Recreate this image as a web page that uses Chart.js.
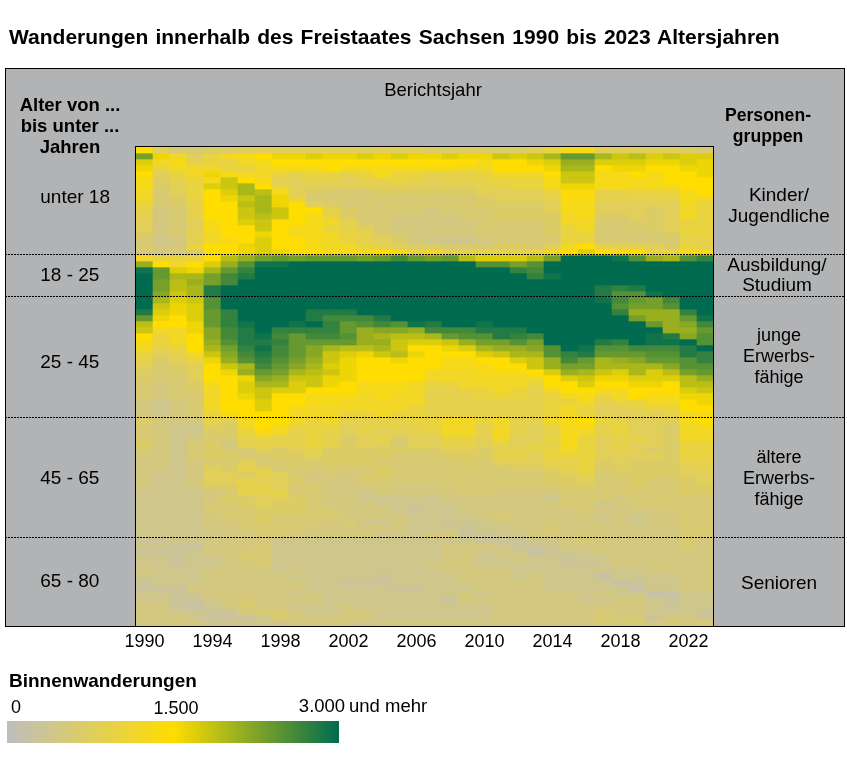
<!DOCTYPE html>
<html lang="de">
<head>
<meta charset="utf-8">
<title>Wanderungen innerhalb des Freistaates Sachsen</title>
<script src="https://cdn.jsdelivr.net/npm/chart.js@4"></script>
<style>
  html, body { margin: 0; padding: 0; background: #fff; }
  body { position: relative; width: 847px; height: 760px; overflow: hidden;
         font-family: "Liberation Sans", Arial, sans-serif; color: #000; }
  #panel { position: absolute; left: 5px; top: 68px; width: 838px; height: 557px;
           background: #b2b3b5; border: 1px solid #000; }
  #chart { position: absolute; left: 0; top: 0; }
  .t { position: absolute; white-space: nowrap; font-size: 18.5px; line-height: 21px; z-index: 2; }
  .c { transform: translateX(-50%); text-align: center; }
  .b { font-weight: bold; }
  #legendBar { position: absolute; left: 7px; top: 721px; width: 332px; height: 22px; }
</style>
</head>
<body>
<div id="panel"></div>
<canvas id="chart" width="847" height="760"></canvas>

<div class="t b" style="left:9px;top:26px;font-size:21px;word-spacing:1.4px">Wanderungen innerhalb des Freistaates Sachsen 1990 bis 2023 Altersjahren</div>
<div class="t c" style="left:433px;top:79px">Berichtsjahr</div>
<div class="t c b" style="left:70px;top:94px">Alter von ...<br>bis unter ...<br>Jahren</div>
<div class="t c b" style="left:768px;top:105px;font-size:17.6px">Personen-<br>gruppen</div>
<div class="t c" style="left:779px;top:184px;font-size:19px">Kinder/<br>Jugendliche</div>
<div class="t c" style="left:777px;top:255px;font-size:19px;line-height:20px">Ausbildung/<br>Studium</div>
<div class="t c" style="left:779px;top:325px;font-size:18px">junge<br>Erwerbs-<br>fähige</div>
<div class="t c" style="left:779px;top:447px;font-size:18px">ältere<br>Erwerbs-<br>fähige</div>
<div class="t c" style="left:779px;top:572px;font-size:19px">Senioren</div>

<div class="t b" style="left:9px;top:670px;font-size:19px">Binnenwanderungen</div>
<div class="t c" style="left:16px;top:697px;font-size:18px">0</div>
<div class="t c" style="left:176px;top:698px;font-size:18px">1.500</div>
<div class="t c" style="left:322px;top:695px">3.000</div>
<div class="t" style="left:349px;top:695px">und mehr</div>
<div id="legendBar"></div>

<script>
/* ── DATA ────────────────────────────────────────────────── */
const years = [1990,1991,1992,1993,1994,1995,1996,1997,1998,1999,2000,2001,2002,2003,2004,2005,2006,
               2007,2008,2009,2010,2011,2012,2013,2014,2015,2016,2017,2018,2019,2020,2021,2022,2023];

const ageLabels   = ["  unter 18", "18 - 25", "25 - 45", "45 - 65", "65 - 80"];
const ageLabelAt  = [8.5, 21.5, 36, 55.33, 72.5];
const ageBreaks   = [18, 25, 45, 65];

// Moves per age (row, 0..79) and year (column), in hundreds. 30 = 3.000 und mehr
const hundreds = [
  [15,8,6,6,7,7,8,8,8,8,8,8,8,8,8,8,8, 7,7,7,7,7,7,8,10,13,13,8,8,8,8,8,7,6],
  [23,16,12,8,10,12,13,15,16,16,17,16,16,17,16,17,16, 16,17,16,16,18,17,18,20,24,24,20,18,19,17,18,17,17],
  [17,12,13,9,10,10,12,13,15,15,15,15,15,15,15,15,15, 15,15,15,13,15,15,16,17,21,21,17,17,17,16,16,17,16],
  [16,10,12,12,12,10,10,12,13,13,13,15,13,13,13,13,13, 13,13,12,12,15,15,15,16,20,20,15,16,16,15,15,16,16],
  [15,8,10,12,16,13,12,12,10,9,10,10,9,10,13,10,10, 9,9,9,10,12,12,12,15,18,18,13,13,15,13,15,15,16],
  [13,7,9,10,13,18,15,13,8,8,9,9,8,9,9,10,9, 8,9,9,9,10,10,10,13,18,18,13,13,13,13,15,15,15],
  [13,7,8,10,17,18,20,15,10,8,8,8,8,8,8,8,8, 8,8,8,9,9,10,10,13,16,16,13,13,12,13,13,15,15],
  [12,6,8,10,15,17,20,19,13,8,7,6,6,6,7,7,7, 7,7,7,8,8,8,8,10,14,14,9,9,10,10,10,13,15],
  [12,6,7,10,15,16,18,20,16,10,6,6,6,6,6,6,6, 6,6,6,7,8,8,8,9,14,14,9,9,9,9,9,13,12],
  [10,6,7,9,15,15,19,20,16,15,8,7,6,6,6,6,6, 6,6,6,7,7,7,7,8,13,13,8,8,8,8,8,12,10],
  [9,5,6,9,15,15,18,20,18,15,15,9,7,6,6,6,6, 5,6,6,6,7,7,7,8,13,13,8,8,8,7,8,12,10],
  [9,5,6,9,15,15,18,19,18,15,13,10,7,6,6,5,5, 5,5,6,6,7,7,7,7,12,13,7,7,8,7,8,12,10],
  [8,5,6,8,13,15,17,18,15,15,13,12,9,6,6,5,5, 5,5,5,6,6,6,6,7,12,12,6,6,7,7,8,10,10],
  [8,5,6,8,13,15,15,18,15,13,13,10,9,8,6,5,5, 5,5,5,6,6,6,6,7,10,12,6,6,6,7,8,10,10],
  [7,5,6,9,12,15,15,16,15,13,13,12,10,9,7,6,5, 5,5,5,6,6,6,6,7,10,10,6,6,6,6,7,10,10],
  [6,4,5,8,12,13,15,17,15,15,13,12,10,9,8,7,5, 4,4,4,5,6,6,6,6,10,10,6,6,6,6,6,9,9],
  [6,5,5,10,15,15,16,17,15,15,13,12,12,10,9,8,7, 7,6,6,6,7,7,6,8,12,15,9,9,9,8,7,10,9],
  [6,5,6,7,15,15,16,17,16,15,15,13,13,13,15,13,10, 12,9,9,9,9,9,10,12,15,17,15,13,15,10,10,13,13],
  [12,10,10,10,15,19,21,23,24,23,24,24,24,23,24,26,24, 23,24,19,17,17,17,19,23,30,30,30,29,25,21,20,25,27],
  [21,15,12,15,17,21,25,29,29,30,30,30,30,30,30,30,30, 30,30,30,25,25,23,25,30,30,30,30,30,30,30,30,30,30],
  [29,24,17,16,20,24,27,30,30,30,30,30,30,30,30,30,30, 30,30,30,30,30,27,26,30,30,30,30,30,30,30,30,30,30],
  [30,24,20,20,23,26,28,30,30,30,30,30,30,30,30,30,30, 30,30,30,30,30,30,27,29,30,30,30,30,30,30,30,30,30],
  [30,23,19,21,23,26,30,30,30,30,30,30,30,30,30,30,30, 30,30,30,30,30,30,30,30,30,30,30,30,30,30,30,30,30],
  [30,23,19,20,28,30,30,30,30,30,30,30,30,30,30,30,30, 30,30,30,30,30,30,30,30,30,30,28,27,28,30,30,30,30],
  [30,22,18,20,28,30,30,30,30,30,30,30,30,30,30,30,30, 30,30,30,30,30,30,30,30,30,30,28,25,25,29,30,30,30],
  [30,20,17,18,25,30,30,30,30,30,30,30,30,30,30,30,30, 30,30,30,30,30,30,30,30,30,30,29,26,24,23,26,30,30],
  [30,18,16,17,25,30,30,30,30,30,30,30,30,30,30,30,30, 30,30,30,30,30,30,30,30,30,30,30,25,23,23,25,30,30],
  [28,17,16,17,24,27,30,30,30,30,28,28,28,30,30,30,30, 30,30,30,30,30,30,30,30,30,30,30,27,21,21,21,27,30],
  [24,16,15,17,24,27,30,30,30,30,28,26,26,26,28,30,30, 30,30,30,30,30,30,30,30,30,30,30,30,23,21,21,24,29],
  [19,15,15,16,24,27,29,30,30,29,30,27,24,25,26,25,29, 28,30,30,29,30,30,30,30,30,30,30,30,30,24,21,22,26],
  [18,12,12,16,22,26,28,30,27,27,27,27,24,21,22,22,21, 26,26,26,28,28,28,30,30,30,30,30,30,30,30,21,21,24],
  [15,10,12,15,22,26,28,29,26,24,26,26,25,21,20,19,19, 20,24,25,25,28,27,26,30,30,30,30,30,30,29,28,22,25],
  [13,10,12,15,21,25,28,28,27,24,24,24,24,21,21,18,17, 17,18,21,23,23,25,23,30,30,30,28,27,30,29,29,30,25],
  [12,9,10,15,20,23,27,29,26,24,22,20,19,19,20,18,15, 15,16,17,20,21,21,22,25,30,29,25,25,26,26,26,28,30],
  [10,8,9,12,18,22,26,28,26,24,22,18,17,16,18,19,16, 15,15,15,17,18,20,20,25,27,28,24,24,24,25,25,28,27],
  [9,7,8,10,16,21,25,27,25,23,21,18,16,15,15,16,15, 15,13,13,15,15,17,18,21,26,24,20,21,22,24,24,25,27],
  [8,6,7,8,15,18,20,26,24,22,20,17,16,15,15,15,15, 15,13,13,13,15,15,18,21,23,23,20,20,20,20,22,25,25],
  [7,6,7,8,15,16,21,24,23,20,19,18,16,15,15,15,15, 12,12,12,13,13,13,15,17,21,20,18,17,20,17,19,23,24],
  [7,6,6,8,15,15,16,22,21,18,18,16,16,15,15,15,15, 12,12,12,12,12,12,12,15,17,18,16,16,17,17,17,19,21],
  [6,5,6,7,13,15,17,20,20,17,18,16,15,13,13,13,12, 10,10,12,12,12,12,10,15,15,17,15,15,16,16,15,19,19],
  [6,5,6,7,12,15,17,18,17,17,15,15,15,13,13,13,12, 9,9,10,10,12,10,9,12,15,15,13,13,15,15,15,17,18],
  [6,5,6,6,12,15,16,18,15,15,13,13,13,12,13,12,12, 9,9,9,10,10,10,9,10,12,13,10,12,15,13,13,16,16],
  [5,4,5,6,12,15,15,17,15,15,13,13,12,12,12,12,12, 9,9,9,9,9,9,9,10,10,12,9,10,10,12,12,15,16],
  [5,4,5,6,12,15,15,17,15,13,12,12,12,12,12,12,10, 9,9,9,9,9,9,9,10,12,10,8,8,9,10,10,15,15],
  [5,4,5,6,10,13,15,15,15,12,12,12,10,10,12,10,10, 9,9,9,9,9,9,9,10,12,10,8,8,8,8,9,12,13],
  [7,5,5,5,9,8,12,15,15,12,10,12,9,9,9,9,10, 10,12,12,10,12,9,9,12,13,15,10,9,8,8,8,13,15],
  [6,5,4,4,8,7,12,15,13,10,10,10,8,9,9,9,9, 10,12,12,9,12,9,8,10,13,13,9,10,8,8,7,12,13],
  [6,5,4,4,7,7,10,13,12,9,10,9,8,9,8,8,9, 9,12,12,9,12,9,8,9,13,12,9,10,8,8,7,12,12],
  [6,5,4,5,6,6,9,10,9,9,10,9,7,8,9,7,8, 8,10,10,8,12,8,8,10,13,10,8,9,9,8,7,12,12],
  [7,5,4,6,7,5,9,9,9,9,10,9,7,8,8,6,8, 8,9,9,8,9,8,9,9,13,10,8,9,8,8,7,10,10],
  [6,5,4,6,7,6,6,8,7,8,9,7,7,7,7,7,7, 7,8,8,7,9,9,9,10,12,10,8,9,8,7,7,10,10],
  [5,5,4,6,7,7,6,6,7,7,8,7,7,7,7,6,6, 6,7,7,7,9,9,8,10,10,10,8,8,8,8,7,10,10],
  [5,5,4,5,6,6,8,6,6,7,6,7,7,7,6,6,6, 6,6,7,6,8,8,8,9,9,10,7,8,7,7,7,9,9],
  [5,5,4,5,8,7,9,8,6,6,6,6,6,6,7,6,6, 6,6,6,6,6,7,7,8,9,10,7,7,7,7,7,8,9],
  [5,4,4,5,8,8,7,9,8,6,5,6,5,6,7,6,6, 6,6,6,6,6,6,6,7,8,9,6,7,7,7,7,8,8],
  [5,4,4,5,8,8,9,8,8,7,5,5,5,6,6,6,6, 6,6,6,6,6,6,6,7,7,8,6,6,7,6,6,7,8],
  [5,4,4,5,7,7,9,9,8,6,6,5,5,5,6,5,5, 5,6,6,6,6,6,6,6,7,7,6,6,7,6,6,7,7],
  [4,4,4,4,5,6,9,9,9,6,6,5,5,4,5,5,5, 5,5,6,6,5,5,5,5,6,6,6,6,6,6,6,7,7],
  [4,4,4,4,5,7,7,8,8,7,6,5,5,4,4,4,4, 4,5,5,5,5,5,5,4,6,6,6,5,6,6,6,6,6],
  [4,4,4,4,6,6,7,8,7,7,6,5,5,5,4,4,4, 4,4,5,5,5,5,5,5,6,6,4,5,6,6,6,6,6],
  [4,4,4,4,6,6,6,7,7,7,6,6,5,5,5,4,3, 4,4,5,5,5,5,5,5,5,6,5,5,5,5,6,6,6],
  [4,4,4,4,5,6,6,7,6,6,6,6,5,5,5,5,4, 4,4,4,5,6,5,5,5,5,5,4,5,4,5,5,6,6],
  [4,4,4,4,5,5,6,7,6,6,6,5,6,4,4,5,4, 4,3,4,4,5,5,5,5,5,5,5,5,4,5,5,6,6],
  [4,4,4,4,5,5,6,6,6,6,5,5,5,5,5,5,4, 4,4,3,4,4,5,5,6,5,5,5,5,5,5,5,6,6],
  [4,4,4,4,4,5,5,6,6,5,5,5,5,5,4,4,4, 5,5,3,3,4,4,5,5,5,5,5,5,5,5,5,6,6],
  [3,3,4,4,5,5,5,5,4,4,4,4,4,4,4,4,4, 4,4,4,3,3,3,4,4,5,6,5,5,5,5,5,6,5],
  [4,4,3,3,5,5,5,6,4,4,4,4,4,4,4,4,4, 4,5,5,5,4,3,3,4,5,5,5,5,5,5,5,6,5],
  [3,3,3,4,5,5,6,6,4,4,4,4,4,4,4,4,4, 4,5,5,4,5,4,2,3,4,4,5,5,5,5,5,5,5],
  [4,4,3,4,4,5,6,6,4,4,4,4,4,4,4,4,4, 4,5,5,4,4,5,4,4,3,4,4,5,5,5,5,5,5],
  [4,4,3,4,4,5,5,6,4,4,4,4,4,4,4,4,4, 5,5,5,4,4,4,4,4,3,3,4,5,5,5,5,5,5],
  [5,4,4,4,5,5,5,5,4,5,4,4,4,4,4,4,4, 4,5,5,5,5,4,4,4,4,4,4,4,4,5,5,5,5],
  [4,4,4,4,5,5,5,5,5,4,4,4,4,4,3,4,4, 4,4,5,5,5,4,5,4,4,4,2,4,4,4,4,5,5],
  [3,4,4,4,5,5,5,5,5,5,4,4,3,3,3,4,4, 4,4,5,5,5,5,5,4,4,4,4,2,3,4,4,5,5],
  [3,3,3,5,5,5,5,5,5,5,4,4,4,4,4,3,3, 4,4,4,5,5,5,5,4,4,4,4,4,2,4,4,5,5],
  [4,4,3,4,5,5,5,5,5,4,5,4,4,4,4,4,4, 4,4,5,4,5,5,5,5,5,4,5,4,4,2,2,4,4],
  [4,4,3,3,4,5,6,5,5,5,5,4,4,4,4,4,4, 4,3,5,5,5,5,5,5,5,4,4,5,5,4,3,4,4],
  [5,5,3,2,4,5,6,5,5,4,4,4,5,4,4,4,4, 4,4,4,4,5,5,5,5,5,5,5,5,5,4,3,4,4],
  [5,5,4,4,3,3,5,6,6,5,4,4,5,5,4,4,4, 4,4,4,4,5,5,5,5,5,5,6,5,5,4,4,4,3],
  [5,5,5,4,3,3,3,4,6,5,5,5,5,5,4,4,4, 4,4,4,4,5,5,5,5,5,5,6,6,6,3,5,5,4],
  [5,5,5,5,4,4,4,4,4,5,5,5,5,4,5,5,5, 5,5,5,5,5,5,5,5,5,5,6,5,6,5,6,5,6]
];

const scaleGray   = [190, 190, 190];
const scaleYellow = [255, 221, 0];
const scaleGreen  = [0, 107, 79];

/* ── HELPERS ─────────────────────────────────────────────── */
function mix(a, b, t) {
  return `rgb(${a.map((v, i) => Math.round(v + (b[i] - v) * t)).join(",")})`;
}

function cellColor(h) {
  return h <= 15 ? mix(scaleGray, scaleYellow, h / 15) : mix(scaleYellow, scaleGreen, (Math.min(h, 30) - 15) / 15);
}

document.getElementById("legendBar").style.background =
  `linear-gradient(to right, rgb(${scaleGray}), rgb(${scaleYellow}), rgb(${scaleGreen}))`;

/* ── FRAME + DOTTED LINES ────────────────────────────────── */
const framePlugin = {
  id: "frame",
  afterDraw(chart) {
    const { ctx, chartArea: a, scales } = chart;
    ctx.save();
    ctx.strokeStyle = "#000";
    ctx.lineWidth = 1;
    ctx.setLineDash([2, 1]);
    ageBreaks.forEach(age => {
      // upper two lines sit one pixel above the row edge in the original
      const y = Math.round(scales.y.getPixelForValue(age)) + (age < 30 ? -0.5 : 0.5);
      ctx.beginPath();
      ctx.moveTo(5, y);
      ctx.lineTo(844, y);
      ctx.stroke();
    });
    ctx.setLineDash([]);
    ctx.strokeRect(a.left - 0.5, a.top - 0.5, a.right - a.left, 480);
    ctx.restore();
  }
};

/* ── CHART ───────────────────────────────────────────────── */
new Chart(document.getElementById("chart").getContext("2d"), {
  type: "bar",
  data: {
    labels: years,
    datasets: hundreds.map((row, age) => ({
      label: `Alter ${age}`,
      data: row.map(() => 1),
      backgroundColor: row.map(cellColor),
      borderWidth: 0,
      barPercentage: 1,
      categoryPercentage: 1
    }))
  },
  options: {
    responsive: false,
    animation: false,
    devicePixelRatio: 1,
    layout: { padding: { top: 147, right: 133, left: 0, bottom: 0 } },
    plugins: { legend: { display: false }, tooltip: { enabled: false } },
    scales: {
      x: {
        stacked: true,
        grid: { display: false, drawTicks: false },
        border: { display: false },
        afterFit: s => { s.height = 133; },
        ticks: {
          autoSkip: false,
          maxRotation: 0,
          padding: 4,
          color: "#000",
          font: { family: "'Liberation Sans', Arial, sans-serif", size: 18 },
          callback(val, i) { return i % 4 === 0 ? years[i] : ""; }
        }
      },
      y: {
        stacked: true,
        reverse: true,
        min: 0,
        max: 80,
        grid: { display: false, drawTicks: false },
        border: { display: false },
        afterFit: s => { s.width = 136; },
        afterBuildTicks: s => { s.ticks = ageLabelAt.map(value => ({ value })); },
        ticks: {
          crossAlign: "center",
          padding: 26,
          color: "#000",
          font: { family: "'Liberation Sans', Arial, sans-serif", size: 19 },
          callback(val, i) { return ageLabels[i]; }
        }
      }
    }
  },
  plugins: [framePlugin]
});
</script>
</body>
</html>
